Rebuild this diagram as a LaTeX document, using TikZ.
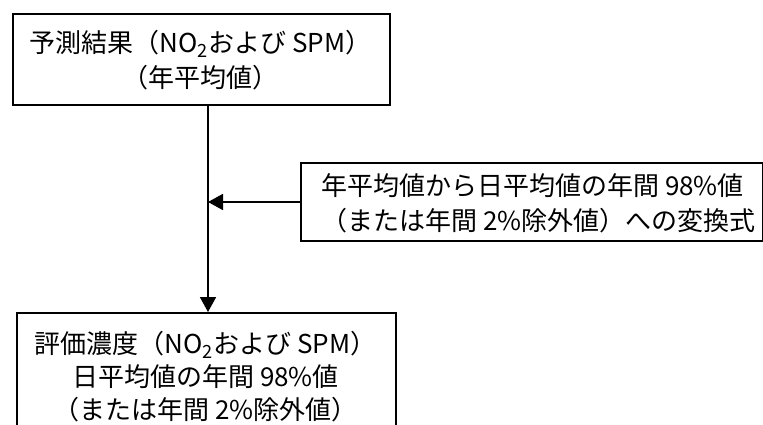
\documentclass[tikz,border=0pt]{standalone}
\usepackage{fontspec}
\setmainfont{Noto Sans CJK JP}
\usetikzlibrary{arrows.meta}
\begin{document}
\begin{tikzpicture}[x=1pt,y=-1pt,
  box/.style={draw=black,line width=1.8pt,rectangle,inner sep=0pt,anchor=north west},
  lbl/.style={inner sep=0pt,font=\fontsize{26}{35}\selectfont},
  conn/.style={line width=1.8pt,-{Triangle[length=15pt,width=16pt]}}]
\useasboundingbox (0,0) rectangle (763,424);
\begin{scope}
\clip (0,0) rectangle (763,424);
% boxes
\node[box,minimum width=377pt,minimum height=91pt] (tbox) at (12,13) {};
\node[box,minimum width=462pt,minimum height=78pt] (rbox) at (300,162) {};
\node[box,minimum width=379pt,minimum height=140pt] (bbox) at (16,312) {};
% texts
\node[lbl,align=center] (ttxt) at (200.5,60.5) {予測結果（NO\textsubscript{2}および SPM）\\（年平均値）};
\node[lbl,align=left,anchor=west] (rtxt) at (321,203) {年平均値から日平均値の年間 98\%値\\（または年間 2\%除外値）への変換式};
\node[lbl,align=center,font=\fontsize{26}{33}\selectfont] (btxt) at (205.5,377) {評価濃度（NO\textsubscript{2}および SPM）\\日平均値の年間 98\%値\\（または年間 2\%除外値）};
% connectors
\coordinate (j) at (208,202);
\draw[conn] (j |- tbox.south) -- (j |- bbox.north);
\draw[conn] (rbox.west |- j) -- (j);
\end{scope}
\end{tikzpicture}
\end{document}
